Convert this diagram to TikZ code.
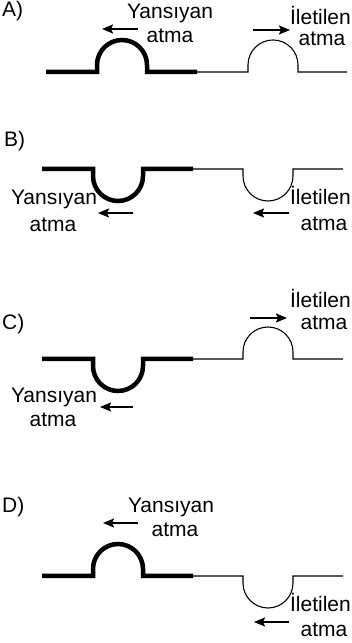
\documentclass[tikz,border=0pt]{standalone}
\usepackage{fontspec}
\setmainfont{Liberation Sans}
\usetikzlibrary{arrows.meta}

\tikzset{
  lbl/.style={font=\fontsize{21}{23}\selectfont, inner sep=0pt, anchor=base},
  heavy/.style={line width=4.5pt},
  light/.style={line width=1.1pt},
  motion/.style={line width=1.7pt, -{Stealth[length=11pt,width=9pt,inset=2pt]}},
}

\begin{document}
\begin{tikzpicture}[x=1pt,y=1pt]
\useasboundingbox (0,0) rectangle (352,643);
% A)
\node[lbl, anchor=base west] (labA) at (2,626) {A)};
\draw[heavy] (46,571) -- (97,571) -- ++(0,7) arc[start angle=180, end angle=0, radius=25] -- ++(0,-7) -- (197,571);
\draw[light] (197,571) -- (248,571) -- ++(0,7) arc[start angle=180, end angle=0, radius=25] -- ++(0,-7) -- (347,571);
\node[lbl] (yansA) at (170,624) {Yansıyan};
\node[lbl] (yansAb) at (170,600) {atma};
\draw[motion] (138,614) -- (102,614);
\node[lbl, anchor=base east] (iletA) at (351,618) {İletilen};
\node[lbl] (iletAb) at (322,597) {atma};
\draw[motion] (253,613) -- (290,613);
% B)
\node[lbl, anchor=base west] (labB) at (4,496) {B)};
\draw[heavy] (42,474) -- (93,474) -- ++(0,-7) arc[start angle=180, end angle=360, radius=25] -- ++(0,7) -- (193,474);
\draw[light] (193,474) -- (243,474) -- ++(0,-7) arc[start angle=180, end angle=360, radius=25] -- ++(0,7) -- (343,474);
\node[lbl] (yansB) at (54,438) {Yansıyan};
\node[lbl] (yansBb) at (53,411) {atma};
\draw[motion] (133,430) -- (98,430);
\node[lbl, anchor=base east] (iletB) at (351,438) {İletilen};
\node[lbl] (iletBb) at (324,412) {atma};
\draw[motion] (289,430) -- (253,430);
% C)
\node[lbl, anchor=base west] (labC) at (2,313) {C)};
\draw[heavy] (42,284) -- (93,284) -- ++(0,-7) arc[start angle=180, end angle=360, radius=25] -- ++(0,7) -- (193,284);
\draw[light] (193,284) -- (243,284) -- ++(0,7) arc[start angle=180, end angle=0, radius=25] -- ++(0,-7) -- (343,284);
\node[lbl] (yansC) at (54,240) {Yansıyan};
\node[lbl] (yansCb) at (53,216) {atma};
\draw[motion] (133,236) -- (100,236);
\node[lbl, anchor=base east] (iletC) at (351,335) {İletilen};
\node[lbl] (iletCb) at (324,313) {atma};
\draw[motion] (250,325) -- (287,325);
% D)
\node[lbl, anchor=base west] (labD) at (2,130) {D)};
\draw[heavy] (42,67) -- (93,67) -- ++(0,7) arc[start angle=180, end angle=0, radius=25] -- ++(0,-7) -- (193,67);
\draw[light] (193,67) -- (243,67) -- ++(0,-7) arc[start angle=180, end angle=360, radius=25] -- ++(0,7) -- (343,67);
\node[lbl] (yansD) at (171,130) {Yansıyan};
\node[lbl] (yansDb) at (175,106) {atma};
\draw[motion] (138,120) -- (103,120);
\node[lbl, anchor=base east] (iletD) at (351,31) {İletilen};
\node[lbl] (iletDb) at (324,6) {atma};
\draw[motion] (289,21) -- (254,21);
\end{tikzpicture}
\end{document}
